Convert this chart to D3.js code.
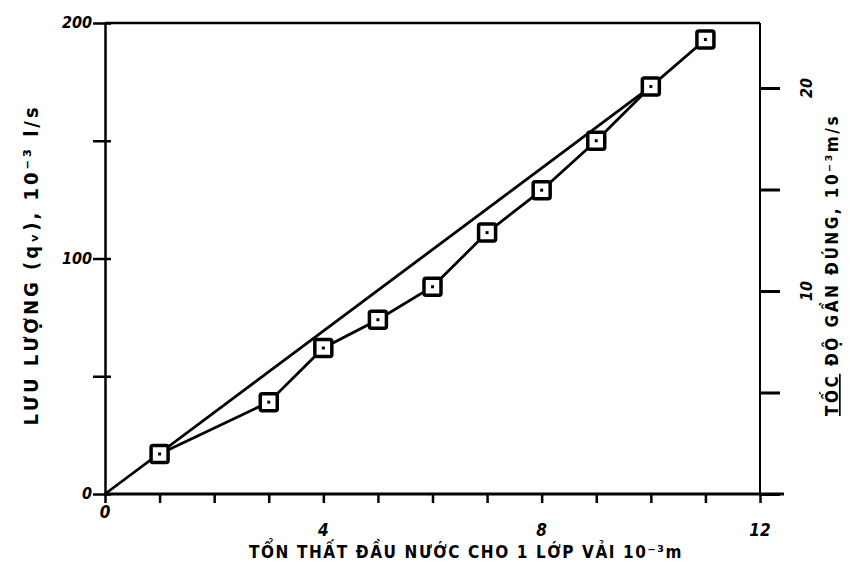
<!DOCTYPE html>
<html>
<head>
<meta charset="utf-8">
<script src="https://cdn.jsdelivr.net/npm/d3@7"></script>
<style>
body { margin: 0; background: #fff; }
text { font-family: "DejaVu Sans Condensed", "DejaVu Sans", sans-serif; fill: #000; }
</style>
</head>
<body>
<div id="chart"></div>
<script>
// measured points: head loss (10^-3 m) vs flow (10^-3 l/s)
var headLoss = [1, 3, 4, 5, 6, 7, 8, 9, 10, 11];
var flow = [17, 39, 62, 74, 88, 111, 129, 150, 173, 193];
// straight reference line
var fitX = [0, 10];
var fitY = [0, 173];
var xTicks = [0, 1, 2, 3, 4, 5, 6, 7, 8, 9, 10, 11, 12];
var xLabels = [0, 4, 8, 12];
var yTicks = [0, 50, 100, 150, 200];
var rightTicks = [0, 5, 10, 15, 20];
var rightLabels = [10, 20];

var width = 850, height = 580;
var margin = {top: 23, bottom: 86, left: 105, right: 90};

var svg = d3.select("#chart")
    .append("svg")
    .attr("width", width)
    .attr("height", height);

var x = d3.scaleLinear()
    .domain([0, 12])
    .range([margin.left, width - margin.right]);

var y = d3.scaleLinear()
    .domain([0, 200])
    .range([height - margin.bottom, margin.top]);

var yR = d3.scaleLinear()
    .domain([0, 20])
    .range([height - margin.bottom, 88]);

// x axis
var xAxis = svg.append("g")
    .attr("transform", "translate(0," + y(0) + ")")
    .call(d3.axisBottom(x).tickValues(xTicks).tickSize(9).tickSizeOuter(0).tickFormat(""));
xAxis.select(".domain").remove();
xAxis.selectAll("line").attr("stroke-width", 2.5);
svg.append("line")
    .attr("x1", x(0)).attr("x2", x(12) + 24)
    .attr("y1", y(0)).attr("y2", y(0))
    .attr("stroke", "#000").attr("stroke-width", 3);

svg.selectAll(".xlab")
    .data(xLabels)
    .join("text")
    .attr("class", "xlab")
    .attr("x", function(d) { return x(d); })
    .attr("y", function(d) { return d == 0 ? y(0) + 24 : y(0) + 42; })
    .attr("text-anchor", "middle")
    .attr("font-size", 17)
    .attr("font-weight", "bold")
    .attr("font-style", "italic")
    .text(function(d) { return d; });

// left axis
var yAxis = svg.append("g")
    .attr("transform", "translate(" + x(0) + ",0)")
    .call(d3.axisLeft(y).tickValues(yTicks).tickSize(9).tickSizeOuter(0).tickFormat(""));
yAxis.select(".domain").attr("stroke-width", 2.5);
yAxis.selectAll(".tick line").attr("x2", -12).attr("x1", 6).attr("stroke-width", 2.5);

svg.selectAll(".ylab")
    .data([0, 100, 200])
    .join("text")
    .attr("class", "ylab")
    .attr("x", x(0) - 13)
    .attr("y", function(d) { return y(d) + 5; })
    .attr("text-anchor", "end")
    .attr("font-size", 16)
    .attr("font-weight", "bold")
    .attr("font-style", "italic")
    .text(function(d) { return d; });

// top border
svg.append("line")
    .attr("x1", x(0)).attr("x2", x(12))
    .attr("y1", y(200)).attr("y2", y(200))
    .attr("stroke", "#000").attr("stroke-width", 2.5);

// right axis
var rAxis = svg.append("g")
    .attr("transform", "translate(" + x(12) + ",0)")
    .call(d3.axisRight(yR).tickValues(rightTicks).tickSize(20).tickSizeOuter(0).tickFormat(""));
rAxis.select(".domain").remove();
rAxis.selectAll(".tick line").attr("stroke-width", 3);
svg.append("line")
    .attr("x1", x(12)).attr("x2", x(12))
    .attr("y1", y(200)).attr("y2", y(0))
    .attr("stroke", "#000").attr("stroke-width", 2);

svg.selectAll(".rlab")
    .data(rightLabels)
    .join("text")
    .attr("class", "rlab")
    .attr("transform", function(d) { return "translate(" + (x(12) + 52) + "," + yR(d) + ") rotate(-90)"; })
    .attr("text-anchor", "middle")
    .attr("font-size", 16)
    .attr("font-weight", "bold")
    .attr("font-style", "italic")
    .text(function(d) { return d; });

// axis titles
svg.append("text")
    .attr("x", 466)
    .attr("y", 558)
    .attr("text-anchor", "middle")
    .attr("font-size", 17)
    .attr("font-weight", "bold")
    .attr("letter-spacing", 1.6)
    .text("TỔN THẤT ĐẦU NƯỚC CHO 1 LỚP VẢI 10⁻³m");

svg.append("text")
    .attr("transform", "translate(38,265) rotate(-90)")
    .attr("text-anchor", "middle")
    .attr("font-size", 20)
    .attr("font-weight", "bold")
    .attr("letter-spacing", 3)
    .text("LƯU LƯỢNG (qᵥ), 10⁻³ l/s");

var rTitle = svg.append("text")
    .attr("transform", "translate(838,265) rotate(-90)")
    .attr("text-anchor", "middle")
    .attr("font-size", 17)
    .attr("font-weight", "bold")
    .attr("letter-spacing", 2.5);
rTitle.append("tspan")
    .attr("text-decoration", "underline")
    .text("TỐC");
rTitle.append("tspan")
    .text(" ĐỘ GẦN ĐÚNG, 10⁻³m/s");

// straight line
var line = d3.line()
    .x(function(d) { return x(d[0]); })
    .y(function(d) { return y(d[1]); });

svg.append("path")
    .datum(d3.zip(fitX, fitY))
    .attr("d", line)
    .attr("fill", "none")
    .attr("stroke", "#000")
    .attr("stroke-width", 2.8);

// measured polyline
svg.append("path")
    .datum(d3.zip(headLoss, flow))
    .attr("d", line)
    .attr("fill", "none")
    .attr("stroke", "#000")
    .attr("stroke-width", 2.8);

// square markers
var pts = svg.append("g")
    .selectAll("g")
    .data(d3.zip(headLoss, flow))
    .join("g")
    .attr("transform", function(d) { return "translate(" + x(d[0]) + "," + y(d[1]) + ")"; });

pts.append("rect")
    .attr("x", -8.5).attr("y", -8.5)
    .attr("width", 17).attr("height", 17)
    .attr("rx", 2)
    .attr("fill", "#fff")
    .attr("stroke", "#000")
    .attr("stroke-width", 3.5);

pts.append("rect")
    .attr("x", -1.5).attr("y", -1.5)
    .attr("width", 3).attr("height", 3)
    .attr("fill", "#000");
</script>
</body>
</html>
